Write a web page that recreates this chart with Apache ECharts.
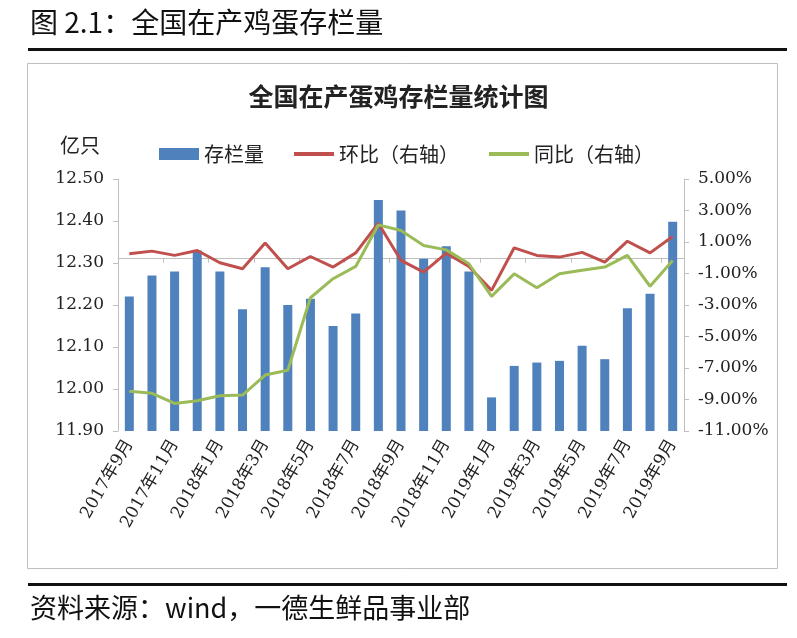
<!DOCTYPE html>
<html>
<head>
<meta charset="utf-8">
<script src="https://cdn.jsdelivr.net/npm/echarts@6/dist/echarts.min.js"></script>
<style>html,body{margin:0;padding:0;background:#fff;}#c{width:797px;height:638px;}</style>
</head>
<body>
<div id="c"></div>
<script>
const categories = ['2017年9月','2017年10月','2017年11月','2017年12月','2018年1月','2018年2月','2018年3月','2018年4月','2018年5月','2018年6月','2018年7月','2018年8月','2018年9月','2018年10月','2018年11月','2018年12月','2019年1月','2019年2月','2019年3月','2019年4月','2019年5月','2019年6月','2019年7月','2019年8月','2019年9月'];
const stock = [12.22,12.27,12.28,12.33,12.28,12.19,12.29,12.20,12.215,12.15,12.18,12.45,12.425,12.31,12.34,12.28,11.98,12.055,12.063,12.067,12.103,12.071,12.192,12.227,12.398];
const mom = [0.25,0.42,0.15,0.46,-0.32,-0.70,0.93,-0.70,0.08,-0.59,0.31,2.19,-0.17,-0.91,0.29,-0.55,-2.07,0.63,0.15,0.04,0.34,-0.28,1.05,0.31,1.35];
const yoy = [-8.47,-8.61,-9.25,-9.08,-8.76,-8.72,-7.45,-7.14,-2.54,-1.33,-0.55,2.09,1.73,0.78,0.50,-0.38,-2.45,-1.02,-1.90,-1.02,-0.80,-0.59,0.15,-1.81,-0.17];
const leftTicks = [11.9,12.0,12.1,12.2,12.3,12.4,12.5];
const rightTicks = [-11,-9,-7,-5,-3,-1,1,3,5];

const chart = echarts.init(document.getElementById('c'));
const serif = 'DejaVu Serif, Liberation Serif, Noto Sans CJK SC';
const cjk = 'Noto Sans CJK SC';
chart.setOption({
  animation: false,
  backgroundColor: '#fff',
  title: {
    text: '全国在产蛋鸡存栏量统计图',
    left: 'center', top: 79,
    textStyle: {fontSize: 25, fontWeight: 'bold', color: '#222', fontFamily: cjk}
  },
  graphic: [
    {type:'text', left: 30, top: 8, style:{text:'图 2.1：全国在产鸡蛋存栏量', fontSize: 28, fontFamily: cjk, fill:'#111'}},
    {type:'rect', shape:{x:28, y:48, width:759, height:3}, style:{fill:'#111'}},
    {type:'rect', shape:{x:27.5, y:63.5, width:750, height:505}, style:{fill:'none', stroke:'#bfbfbf', lineWidth:1}, z:-1},
    {type:'rect', shape:{x:28, y:583, width:759, height:3}, style:{fill:'#111'}},
    {type:'text', left: 30, top: 594, style:{text:'资料来源：wind，一德生鲜品事业部', fontSize: 27, fontFamily: cjk, fill:'#111'}},
    {type:'text', x: 100, y: 145, style:{text:'亿只', fontSize: 20, fontFamily: cjk, fill:'#222', align:'right', verticalAlign:'middle'}}
  ],
  legend: {
    left: 154, top: 139,
    itemWidth: 40, itemHeight: 12, itemGap: 28,
    textStyle: {fontSize: 20, fontFamily: cjk, color: '#222'},
    data: [
      {name:'存栏量', icon:'rect'},
      {name:'环比（右轴）', itemStyle:{opacity:0}, lineStyle:{width:4}},
      {name:'同比（右轴）', itemStyle:{opacity:0}, lineStyle:{width:4}}
    ]
  },
  grid: {left: 118, right: 113, top: 179, bottom: 207},
  xAxis: {
    type: 'category',
    data: categories,
    boundaryGap: true,
    axisLine: {lineStyle: {color: '#bfbfbf', width: 1}},
    axisTick: {show: true, interval: 1, length: 5, lineStyle: {color: '#bfbfbf'}},
    axisLabel: {interval: 1, rotate: 60, fontSize: 17, fontFamily: serif, color: '#222', margin: 10}
  },
  yAxis: [
    {
      type: 'value', min: 11.9, max: 12.5,
      splitLine: {show: false},
      axisLine: {show: true, lineStyle: {color: '#bfbfbf'}},
      axisTick: {show: true, length: 5, customValues: leftTicks, lineStyle: {color: '#bfbfbf'}},
      axisLabel: {customValues: leftTicks, formatter: v => v.toFixed(2), fontSize: 17, fontFamily: serif, color: '#222', margin: 14}
    },
    {
      type: 'value', min: -11, max: 5, position: 'right',
      splitLine: {show: false},
      axisLine: {show: true, lineStyle: {color: '#bfbfbf'}},
      axisTick: {show: true, length: 5, customValues: rightTicks, lineStyle: {color: '#bfbfbf'}},
      axisLabel: {customValues: rightTicks, formatter: v => v.toFixed(2) + '%', fontSize: 17, fontFamily: serif, color: '#222', margin: 14}
    }
  ],
  series: [
    {name: '存栏量', type: 'bar', data: stock, barWidth: 9, itemStyle: {color: '#4F81BD'}, yAxisIndex: 0},
    {name: '环比（右轴）', type: 'line', data: mom, yAxisIndex: 1, symbol: 'none', lineStyle: {color: '#C0504D', width: 3}, itemStyle: {color: '#C0504D'}},
    {name: '同比（右轴）', type: 'line', data: yoy, yAxisIndex: 1, symbol: 'none', lineStyle: {color: '#9BBB59', width: 3}, itemStyle: {color: '#9BBB59'}}
  ]
});
</script>
</body>
</html>
